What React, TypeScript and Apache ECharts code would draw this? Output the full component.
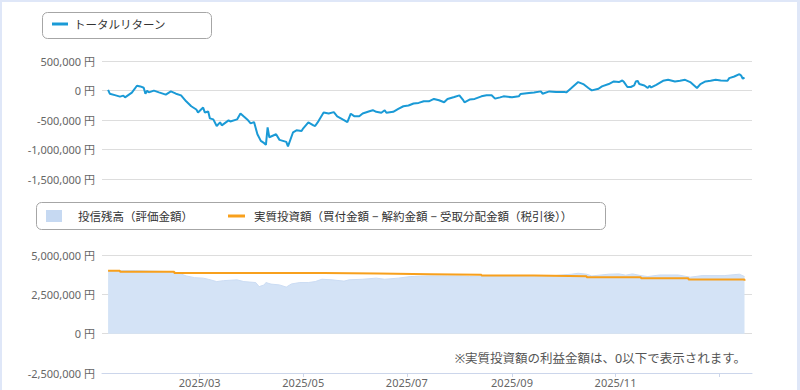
import React, { useEffect, useRef } from "react";
import * as echarts from "echarts";

// ---- Data ----
const trDates = [
  "2025-01-06","2025-01-07","2025-01-10","2025-01-13","2025-01-15","2025-01-16","2025-01-20","2025-01-23","2025-01-25","2025-01-27",
  "2025-01-28","2025-01-29","2025-01-30","2025-02-02","2025-02-05","2025-02-09","2025-02-12","2025-02-15","2025-02-18","2025-02-21",
  "2025-02-24","2025-02-27","2025-02-28","2025-03-03","2025-03-04","2025-03-06","2025-03-07","2025-03-09","2025-03-11","2025-03-13",
  "2025-03-14","2025-03-18","2025-03-19","2025-03-23","2025-03-25","2025-03-27","2025-03-29","2025-03-31","2025-04-02","2025-04-04",
  "2025-04-06","2025-04-08","2025-04-09","2025-04-10","2025-04-11","2025-04-15","2025-04-17","2025-04-21","2025-04-22","2025-04-25",
  "2025-04-27","2025-04-30","2025-05-01","2025-05-04","2025-05-07","2025-05-08","2025-05-10","2025-05-13","2025-05-16","2025-05-19",
  "2025-05-21","2025-05-25","2025-05-27","2025-05-29","2025-05-31","2025-06-03","2025-06-05","2025-06-09","2025-06-11","2025-06-13",
  "2025-06-16","2025-06-18","2025-06-19","2025-06-23","2025-06-26","2025-06-29","2025-07-02","2025-07-05","2025-07-08","2025-07-11",
  "2025-07-14","2025-07-17","2025-07-20","2025-07-23","2025-07-25","2025-07-29","2025-08-01","2025-08-03","2025-08-04","2025-08-07",
  "2025-08-10","2025-08-14","2025-08-17","2025-08-20","2025-08-22","2025-08-25","2025-08-27","2025-09-01","2025-09-05","2025-09-06",
  "2025-09-11","2025-09-14","2025-09-18","2025-09-19","2025-09-23","2025-09-27","2025-10-02","2025-10-03","2025-10-06","2025-10-10",
  "2025-10-13","2025-10-16","2025-10-18","2025-10-22","2025-10-24","2025-10-28","2025-10-31","2025-11-03","2025-11-05","2025-11-06",
  "2025-11-08","2025-11-10","2025-11-12","2025-11-13","2025-11-14","2025-11-15","2025-11-18","2025-11-20","2025-11-21","2025-11-22",
  "2025-11-25","2025-11-29","2025-12-02","2025-12-06","2025-12-09","2025-12-12","2025-12-15","2025-12-18","2025-12-19","2025-12-21",
  "2025-12-24","2025-12-27","2025-12-30","2026-01-02","2026-01-06","2026-01-07","2026-01-10","2026-01-13","2026-01-14","2026-01-15",
  "2026-01-16",
];
const trValues = [
  10000,-54000,-79000,-104000,-87000,-116000,-37000,81000,69000,47000,
  -54000,-3000,-32000,-3000,-32000,-70000,-15000,-54000,-82000,-183000,
  -267000,-322000,-372000,-289000,-372000,-356000,-473000,-490000,-602000,-540000,
  -591000,-507000,-524000,-490000,-389000,-440000,-490000,-557000,-535000,-742000,
  -854000,-893000,-921000,-624000,-792000,-742000,-837000,-871000,-948000,-708000,
  -675000,-686000,-641000,-540000,-591000,-602000,-518000,-372000,-389000,-367000,
  -440000,-502000,-535000,-394000,-435000,-435000,-389000,-351000,-334000,-361000,
  -378000,-334000,-378000,-361000,-310000,-267000,-255000,-221000,-210000,-183000,
  -183000,-143000,-166000,-200000,-143000,-109000,-82000,-154000,-200000,-154000,
  -143000,-99000,-82000,-82000,-138000,-116000,-99000,-116000,-99000,-59000,
  -42000,-32000,-15000,-54000,-15000,-25000,-25000,-32000,42000,143000,
  109000,42000,2000,30000,69000,109000,153000,143000,169000,143000,
  59000,59000,86000,153000,164000,109000,86000,42000,81000,52000,
  97000,164000,181000,153000,164000,181000,143000,69000,42000,109000,
  153000,164000,181000,169000,164000,210000,237000,277000,253000,198000,
  220000,
];

const evalDates = [
  "2025-01-06","2025-01-22","2025-02-13","2025-02-17","2025-02-21","2025-02-26","2025-03-03","2025-03-06","2025-03-11","2025-03-15",
  "2025-03-23","2025-03-27","2025-04-03","2025-04-05","2025-04-08","2025-04-09","2025-04-12","2025-04-17","2025-04-21","2025-04-24",
  "2025-04-29","2025-05-04","2025-05-08","2025-05-12","2025-05-18","2025-05-25","2025-05-28","2025-06-05","2025-06-13","2025-06-18",
  "2025-06-26","2025-07-03","2025-07-14","2025-07-25","2025-08-02","2025-08-07","2025-08-15","2025-08-31","2025-09-13","2025-09-26",
  "2025-10-06","2025-10-10","2025-10-15","2025-10-18","2025-10-28","2025-11-03","2025-11-07","2025-11-11","2025-11-16","2025-11-20",
  "2025-11-27","2025-12-08","2025-12-15","2025-12-22","2026-01-04","2026-01-13","2026-01-16",
];
const evalValues = [
  4000000,4010000,3940000,3840000,3670000,3560000,3530000,3460000,3310000,3370000,
  3420000,3310000,3250000,2990000,3100000,3250000,3150000,3100000,2960000,3160000,
  3250000,3250000,3310000,3460000,3420000,3340000,3420000,3460000,3530000,3460000,
  3530000,3630000,3670000,3670000,3670000,3630000,3670000,3670000,3690000,3690000,
  3780000,3840000,3780000,3670000,3780000,3800000,3720000,3800000,3690000,3630000,
  3730000,3730000,3590000,3690000,3690000,3780000,3630000,
];

const investDates = [
  "2025-01-06","2025-01-13","2025-02-14","2025-05-13","2025-06-14","2025-07-15",
  "2025-08-14","2025-09-14","2025-10-15","2025-11-16","2025-12-14","2026-01-16",
];
const investValues = [
  4000000,3930000,3860000,3820000,3780000,3740000,
  3690000,3650000,3580000,3530000,3450000,3370000,
];

const xTickDates = ["2025-03-01","2025-05-01","2025-07-01","2025-09-01","2025-11-01","2026-01-01"];
const xLabelDates = ["2025-03-01","2025-05-01","2025-07-01","2025-09-01","2025-11-01"];

const NAME_TR = "トータルリターン";
const NAME_EVAL = "投信残高（評価金額）";
const NAME_INV = "実質投資額（買付金額 − 解約金額 − 受取分配金額（税引後））";
const NOTE = "※実質投資額の利益金額は、0以下で表示されます。";

const FONT = '"Noto Sans", "Noto Sans CJK JP", sans-serif';

const ts = (s: string) => new Date(s + "T00:00:00Z").getTime();
const pairs = (d: string[], v: number[]) => d.map((s, i) => [ts(s), v[i]]);

const X_MIN = Date.UTC(2025, 0, 2, 10);
const X_MAX = Date.UTC(2026, 0, 20, 10);

const yFmt = (v: number) => v.toLocaleString("en-US") + " 円";
const xFmt = (v: number) => {
  const d = new Date(v);
  return d.getUTCFullYear() + "/" + String(d.getUTCMonth() + 1).padStart(2, "0");
};

export default function App() {
  const ref = useRef<HTMLDivElement>(null);
  useEffect(() => {
    if (!ref.current) return;
    const chart = echarts.init(ref.current, null, { renderer: "svg" });
    const yAxisBase = {
      type: "value",
      axisLine: { show: false },
      axisTick: { show: false },
      splitLine: { lineStyle: { color: "#dddddd", width: 1 } },
      axisLabel: { color: "#666", fontSize: 11, fontFamily: FONT, margin: 7, formatter: yFmt },
    };
    const legendText = { color: "#333", fontSize: 11.5, lineHeight: 14, fontFamily: FONT };
    chart.setOption({
      animation: false,
      textStyle: { fontFamily: FONT },
      grid: [
        { left: 102, right: 48, top: 61, height: 118, containLabel: false },
        { left: 102, right: 48, top: 255, height: 118, containLabel: false },
      ],
      xAxis: [
        {
          type: "value", gridIndex: 0, min: X_MIN, max: X_MAX, show: false,
          splitLine: { show: false },
        },
        {
          type: "value", gridIndex: 1, min: X_MIN, max: X_MAX,
          axisLine: { show: true, onZero: false, lineStyle: { color: "#ccd6eb", width: 1 } },
          axisTick: { show: true, length: 4, customValues: xTickDates.map(ts), lineStyle: { color: "#ccd6eb" } },
          axisLabel: { customValues: xLabelDates.map(ts), formatter: xFmt, color: "#666", fontSize: 11, fontFamily: FONT, margin: 4 },
          splitLine: { show: false },
        },
      ],
      yAxis: [
        { ...yAxisBase, gridIndex: 0, min: -1500000, max: 500000, interval: 500000 },
        { ...yAxisBase, gridIndex: 1, min: -2500000, max: 5000000, interval: 2500000 },
      ],
      legend: [
        {
          data: [NAME_TR], left: 52, top: 17, padding: 0, icon: "rect", itemWidth: 16, itemHeight: 3,
          textStyle: { ...legendText, padding: [0, 0, 0, 1] },
        },
        {
          data: [NAME_EVAL], left: 46, top: 209, padding: 0, icon: "rect", itemWidth: 16, itemHeight: 12,
          textStyle: { ...legendText, padding: [0, 0, 0, 11] },
        },
        {
          data: [NAME_INV], left: 228, top: 209, padding: 0, icon: "rect", itemWidth: 17, itemHeight: 3,
          textStyle: { ...legendText, padding: [0, 0, 0, 4] },
        },
      ],
      graphic: [
        {
          type: "rect", shape: { x: 42.5, y: 12.5, width: 169, height: 26, r: 5 },
          style: { fill: "none", stroke: "#a6a6a6", lineWidth: 1 }, silent: true,
        },
        {
          type: "rect", shape: { x: 36.5, y: 202.5, width: 569, height: 27, r: 5 },
          style: { fill: "none", stroke: "#a6a6a6", lineWidth: 1 }, silent: true,
        },
        {
          type: "text", x: 746, y: 358,
          style: { text: NOTE, fill: "#555", fontSize: 12.5, fontFamily: FONT, textAlign: "right", textVerticalAlign: "middle" },
          silent: true,
        },
      ],
      series: [
        {
          name: NAME_TR, type: "line", xAxisIndex: 0, yAxisIndex: 0,
          data: pairs(trDates, trValues), showSymbol: false, symbol: "none",
          itemStyle: { color: "#1a9ad6" }, lineStyle: { color: "#1a9ad6", width: 2 },
        },
        {
          name: NAME_EVAL, type: "line", xAxisIndex: 1, yAxisIndex: 1,
          data: pairs(evalDates, evalValues), showSymbol: false, symbol: "none",
          itemStyle: { color: "#c6d9f2" }, lineStyle: { color: "#cbdcf3", width: 1 },
          areaStyle: { color: "#d4e3f6", opacity: 1 }, z: 1,
        },
        {
          name: NAME_INV, type: "line", xAxisIndex: 1, yAxisIndex: 1, step: "end",
          data: pairs(investDates, investValues), showSymbol: false, symbol: "none",
          itemStyle: { color: "#f8a01c" }, lineStyle: { color: "#f8a01c", width: 2 }, z: 3,
        },
      ],
    });
    return () => chart.dispose();
  }, []);

  return (
    <>
      <div
        style={{
          position: "absolute", left: 0, top: 0, width: 800, height: 390, boxSizing: "border-box",
          borderTop: "2px solid #dfe7f8", borderLeft: "2px solid #dfe7f8", borderRight: "3px solid #dfe7f8",
          background: "#fff",
        }}
      />
      <div ref={ref} style={{ position: "absolute", left: 0, top: 0, width: 800, height: 390 }} />
    </>
  );
}
